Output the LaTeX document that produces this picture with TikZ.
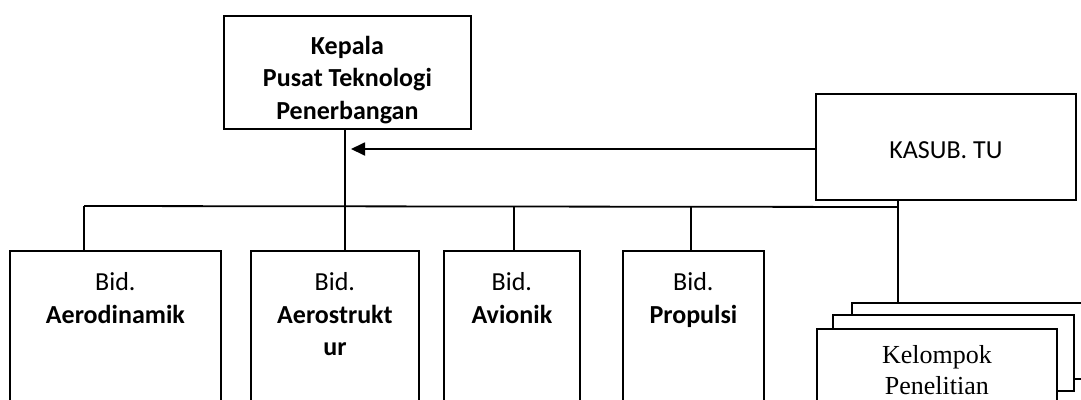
\documentclass[tikz,border=0pt]{standalone}
\usepackage{fontspec}
\setmainfont{Carlito}
\newfontfamily\timesfont{Liberation Serif}
\usetikzlibrary{arrows.meta,positioning}

\begin{document}
\begin{tikzpicture}[x=1pt,y=-1pt,line width=1.8pt,
    font=\fontsize{26}{32.5}\selectfont,
    unitbox/.style={draw,fill=white,anchor=north west,inner sep=0pt},
    unittext/.style={anchor=north,align=center,inner sep=0pt}]
  \useasboundingbox (0,0) rectangle (1081,399);
  \clip (0,0) rectangle (1081,399);

  % top boxes
  \node[unitbox,minimum width=247pt,minimum height=113pt] (kepala) at (223,15) {};
  \node[unittext,below=20pt of kepala.north,font=\fontsize{26}{32.5}\selectfont\bfseries]
        (kepalatxt) {Kepala\\Pusat Teknologi\\Penerbangan};
  \node[unitbox,minimum width=260pt,minimum height=106pt] (kasub) at (815,93)
        {\raisebox{-3pt}[\height][\depth]{KASUB. TU}};

  % bidang boxes
  \node[unitbox,minimum width=211pt,minimum height=180pt] (aerodin) at (9,250) {};
  \node[unitbox,minimum width=168pt,minimum height=180pt] (aerostr) at (250,250) {};
  \node[unitbox,minimum width=136pt,minimum height=180pt] (avionik) at (443,250) {};
  \node[unitbox,minimum width=141pt,minimum height=180pt] (propulsi) at (622,250) {};
  \node[unittext,below=22pt of aerodin.north] (aerodintxt) {Bid.\\\textbf{Aerodinamik}};
  \node[unittext,below=22pt of aerostr.north] (aerostrtxt) {Bid.\\\textbf{Aerostrukt}\\\textbf{ur}};
  \node[unittext,below=22pt of avionik.north] (avioniktxt) {Bid.\\\textbf{Avionik}};
  \node[unittext,below=22pt of propulsi.north] (propulsitxt) {Bid.\\\textbf{Propulsi}};

  % kelompok penelitian (stacked)
  \node[unitbox,minimum width=260pt,minimum height=76pt] (kpback) at (851,302) {};
  \node[unitbox,minimum width=241pt,minimum height=76pt] (kpmid) at (832,314) {};
  \node[unitbox,minimum width=240pt,minimum height=100pt] (kpfront) at (816,328) {};
  \node[unittext,below=17pt of kpfront.north,font=\fontsize{26}{31}\selectfont\timesfont]
        (kptxt) {Kelompok\\Penelitian};

  % connectors
  \coordinate (busL) at (84,206);
  \coordinate (busR) at (898,207);
  \coordinate (junc) at (345,206);
  \coordinate (dropAvi) at (514,207);
  \coordinate (dropPro) at (691,207);
  \coordinate (tip) at (351,149);
  \draw (busL) -- (busR);
  \draw (kepala.south -| junc) -- (aerostr.north -| junc);
  \draw (busL) -- (busL |- aerodin.north);
  \draw (dropAvi) -- (dropAvi |- avionik.north);
  \draw (dropPro) -- (dropPro |- propulsi.north);
  \draw (kasub.south -| busR) -- (kpback.north -| busR);
  \draw[-{Triangle[length=14pt,width=13pt]}] (kasub.west |- tip) -- (tip);
\end{tikzpicture}
\end{document}
